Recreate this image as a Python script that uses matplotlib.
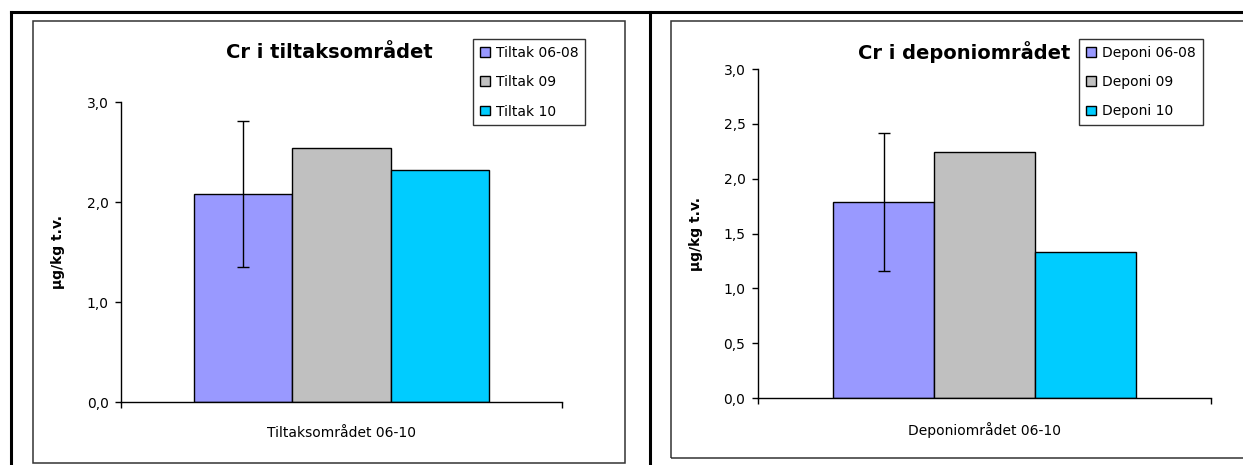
import matplotlib
matplotlib.use("Agg")
import matplotlib.pyplot as plt
from matplotlib.lines import Line2D
from matplotlib.patches import Rectangle, Patch

plt.rcParams['font.family'] = ['DejaVu Sans']

# ---------------- data ----------------
left_title = "Cr i tiltaksområdet"
left_category = "Tiltaksområdet 06-10"
left_series = ["Tiltak 06-08", "Tiltak 09", "Tiltak 10"]
left_values = [2.08, 2.54, 2.32]
left_error = 0.73          # error bar on first series only
left_yticks = [0.0, 1.0, 2.0, 3.0]

right_title = "Cr i deponiområdet"
right_category = "Deponiområdet 06-10"
right_series = ["Deponi 06-08", "Deponi 09", "Deponi 10"]
right_values = [1.79, 2.245, 1.334]
right_error = 0.63
right_yticks = [0.0, 0.5, 1.0, 1.5, 2.0, 2.5, 3.0]

ylabel = "µg/kg t.v."
colors = ["#9999FF", "#C0C0C0", "#00CCFF"]

W, H = 1243, 465
fig = plt.figure(figsize=(W / 100, H / 100), dpi=100)


def fx(px):
    return px / W


def fy(py):
    return 1 - py / H


# table borders and chart frames
for (x0, y0, x1, y1, lw, c) in [
    (11, 12, 1243, 12, 2.2, "black"),
    (11, 12, 11, 465, 2.2, "black"),
    (649.5, 12, 649.5, 465, 2.2, "black"),
]:
    fig.add_artist(Line2D([fx(x0), fx(x1)], [fy(y0), fy(y1)], color=c, lw=lw,
                          transform=fig.transFigure))

for (x0, y0, x1, y1) in [(32.5, 21, 624.7, 463), (671, 21, 1250, 458)]:
    fig.add_artist(Rectangle((fx(x0), fy(y1)), fx(x1) - fx(x0), fy(y0) - fy(y1),
                             transform=fig.transFigure, fill=False,
                             edgecolor="#333333", lw=1.1))


def draw(ax_px, title, title_px, category, series, values, err, yticks,
         legend_px, ylabel_x):
    l, t, r, b = ax_px
    ax = fig.add_axes([fx(l), fy(b), fx(r) - fx(l), fy(t) - fy(b)])
    w = 0.2225
    offsets = [-w, 0.0, w]
    for off, v, c, s in zip(offsets, values, colors, series):
        ax.bar(0.5 + off, v, width=w, color=c, edgecolor="black",
               lw=1.0, label=s, zorder=2)
    ax.errorbar(0.5 + offsets[0], values[0], yerr=err, fmt="none",
                ecolor="black", elinewidth=1.0, capsize=4.5, capthick=1.0,
                zorder=3)
    ax.set_xlim(0, 1)
    ax.set_ylim(0, 3)
    for sp in ["top", "right"]:
        ax.spines[sp].set_visible(False)
    for sp in ["left", "bottom"]:
        ax.spines[sp].set_linewidth(1.0)
        ax.spines[sp].set_color("black")
    ax.set_yticks(yticks)
    ax.set_yticklabels([f"{v:.1f}".replace(".", ",") for v in yticks],
                       fontsize=10)
    ax.tick_params(axis="y", direction="out", length=4, width=1, pad=5)
    ax.set_xticks([0, 1])
    ax.set_xticklabels(["", ""])
    ax.tick_params(axis="x", which="major", direction="out", length=4, width=1)
    ax.set_xticks([0.5], [category], minor=True)
    ax.tick_params(axis="x", which="minor", length=0, pad=17, labelsize=10)
    ax.set_ylabel(ylabel, fontsize=10, fontweight="bold")
    ax.yaxis.set_label_coords(ylabel_x, 0.5)
    fig.text(fx(title_px[0]), fy(title_px[1]), title, fontsize=14,
             fontweight="bold", ha="center", va="center")
    handles = [Patch(facecolor=c, edgecolor="black", lw=1.0) for c in colors]
    leg = fig.legend(handles, series, loc="upper left",
                     bbox_to_anchor=(fx(legend_px[0]), fy(legend_px[1])),
                     bbox_transform=fig.transFigure, fontsize=10,
                     frameon=True, fancybox=False, shadow=False,
                     borderpad=0.5, labelspacing=1.1, handlelength=0.7,
                     handleheight=0.7, handletextpad=0.45, borderaxespad=0)
    leg.get_frame().set_edgecolor("black")
    leg.get_frame().set_linewidth(1.0)
    return ax


draw((121, 102, 562, 402), left_title, (329.6, 52), left_category,
     left_series, left_values, left_error, left_yticks, (473, 39), -0.127)
draw((758, 69, 1211, 398), right_title, (964, 52), right_category,
     right_series, right_values, right_error, right_yticks, (1079, 39), -0.121)

fig.savefig("out.png", dpi=100)
